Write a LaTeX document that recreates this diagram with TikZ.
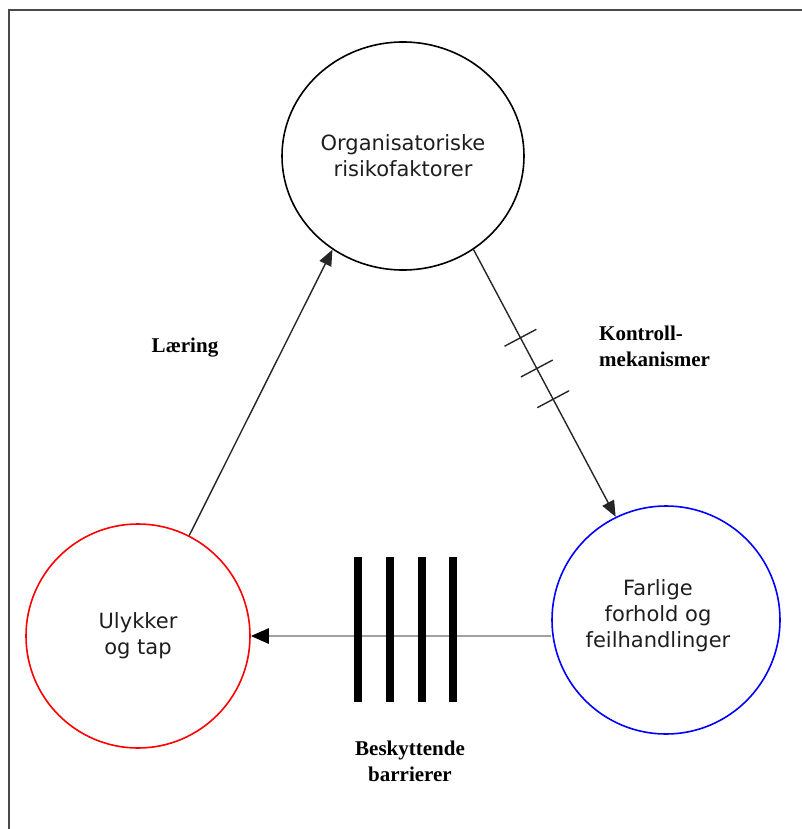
\documentclass[tikz,border=0pt]{standalone}
\usepackage{fontspec}
\setmainfont{Liberation Serif}
\newfontfamily\circfont{DejaVu Sans}
\usetikzlibrary{arrows.meta,calc,shapes.geometric}
\definecolor{framegray}{HTML}{4A4A4A}
\definecolor{linegray}{HTML}{A0A0A0}
\definecolor{txtgray}{HTML}{1E1E1E}
\tikzset{
  circbox/.style={circle, draw, line width=1.6pt, inner sep=0pt, font=\circfont\fontsize{21}{26}\selectfont, text=txtgray, align=center},
  ellbox/.style={ellipse, draw=black, line width=1.6pt, inner sep=0pt, font=\circfont\fontsize{21}{26}\selectfont, text=txtgray, align=center},
  circtext/.style={font=\circfont\fontsize{21}{26}\selectfont, text=txtgray, align=center, inner sep=0pt},
  lbl/.style={font=\fontsize{21}{26}\selectfont\bfseries, inner sep=0pt},
  flow/.style={draw=black!85, line width=1.4pt, -{Triangle[length=16pt,width=13pt]}},
  tick/.style={draw=black!85, line width=1.4pt},
  barrier/.style={draw=black, line width=8pt},
  framestyle/.style={draw=framegray, line width=2.6pt}
}
\begin{document}
\begin{tikzpicture}[x=1pt,y=-1pt]
\useasboundingbox (0,0) rectangle (802,829);
\draw[framestyle] (9,829) -- (9,10) -- (802,10);

\node[ellbox, minimum width=242pt, minimum height=228pt] (org) at (403,156) {Organisatoriske\\risikofaktorer};
\node[circbox, draw=red, minimum size=224pt] (uly) at (138,636) {Ulykker\\og tap};
\node[circbox, draw=blue, minimum size=228pt] (far) at (666,620) {};
\node[circtext] (fartxt) at (658,616) {Farlige\\forhold og\\feilhandlinger};

% Laering arrow
\draw[flow] (uly.63.4) -- (org.233.8);
\node[lbl] (laer) at (185,348) {Læring};

% Kontroll arrow
\coordinate (ks) at (org.307.2);
\coordinate (ke) at (far.116.1);
\draw[flow] (ks) -- (ke);
\foreach \t/\n in {0.33/k1,0.445/k2,0.56/k3}{
  \coordinate (\n) at ($(ks)!\t!(ke)$);
  \draw[tick] ($(\n)!18pt!90:(ke)$) -- ($(\n)!18pt!-90:(ke)$);
}
\node[lbl, anchor=west, align=left] (kontr) at (599,346) {Kontroll-\\mekanismer};

% Barrier line
\draw[draw=linegray, line width=2.6pt, -{Triangle[length=18pt,width=15pt,color=black]}] (uly.east -| far.west) -- (uly.east);
\foreach \x in {358,389.5,421.5,453}{
  \draw[barrier] (\x,557) -- (\x,702);
}
\node[lbl, align=center] (besk) at (410,761) {Beskyttende\\barrierer};
\end{tikzpicture}
\end{document}
